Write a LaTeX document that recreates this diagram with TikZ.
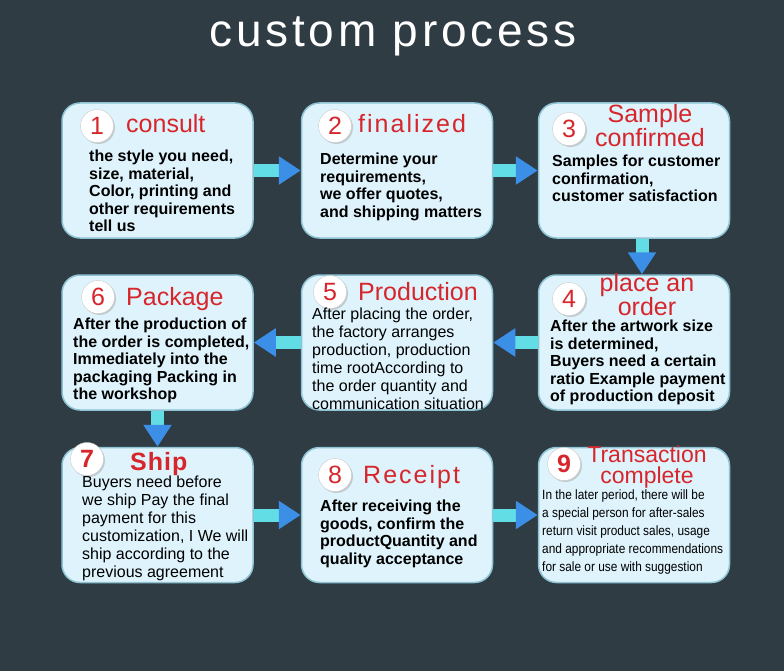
\documentclass[tikz,border=0pt]{standalone}
\usepackage{fontspec}
\setmainfont{Liberation Sans}
\newfontfamily\narrowfont{Liberation Sans}[FakeStretch=0.88]
\usetikzlibrary{arrows.meta,shadows}
\definecolor{bgslate}{HTML}{2F3C44}
\definecolor{cardfill}{HTML}{DEF3FB}
\definecolor{cardedge}{HTML}{8EC3D4}
\definecolor{numred}{HTML}{D7262B}
\definecolor{shaftcyan}{HTML}{62DDE6}
\definecolor{headblue}{HTML}{3C8FE6}
\tikzset{
  card/.style={rectangle, rounded corners=18pt, draw=cardedge, line width=1.5pt,
    fill=cardfill, minimum width=191pt, minimum height=135pt},
  badge/.style={circle, fill=white, draw=black!20, minimum size=33pt, inner sep=0pt,
    text=numred, font=\fontsize{25}{25}\selectfont,
    drop shadow={shadow xshift=1.5pt, shadow yshift=-1.5pt, fill=black!35}},
  heading/.style={inner sep=0pt, text=numred, font=\fontsize{25}{25}\selectfont},
  body/.style={anchor=north west, align=left, inner sep=0pt, text=black,
    font=\bfseries\fontsize{16}{17.5}\selectfont},
  flow/.style={line width=13pt, shaftcyan, -{Triangle[width=27pt,length=22pt,color=headblue]}}
}
\begin{document}
\begin{tikzpicture}[x=1pt,y=-1pt]
\fill[bgslate] (0,0) rectangle (784,671);
\useasboundingbox (0,0) rectangle (784,671);

\node[anchor=base, text=white, font=\fontsize{46}{46}\selectfont\addfontfeature{LetterSpace=8}] (title) at (393,47) {custom process};

% the nine cards, row by row
\node[card] (c1) at (157.5,170.5) {};
\node[card] (c2) at (397,170.5) {};
\node[card] (c3) at (634,170.5) {};
\node[card] (c6) at (157.5,342.5) {};
\node[card] (c5) at (397,342.5) {};
\node[card] (c4) at (634,342.5) {};
\node[card] (c7) at (157.5,515) {};
\node[card] (c8) at (397,515) {};
\node[card] (c9) at (634,515) {};

% flow between the cards
\draw[flow] (c1) -- (c2);
\draw[flow] (c2) -- (c3);
\draw[flow] ([xshift=8pt]c3.south) -- ([xshift=8pt]c4.north);
\draw[flow] (c4) -- (c5);
\draw[flow] (c5) -- (c6);
\draw[flow] (c6) -- (c7);
\draw[flow] (c7) -- (c8);
\draw[flow] (c8) -- (c9);

% 1 consult
\node[badge] (n1) at (97,126) {1};
\node[heading, anchor=base west] (h1) at (126,133) {consult};
\node[body] (t1) at (89,150) {the style you need,\\size, material,\\Color, printing and\\other requirements\\tell us};

% 2 finalized
\node[badge] (n2) at (335,126) {2};
\node[heading, anchor=base west, font=\fontsize{25}{25}\selectfont\addfontfeature{LetterSpace=8}] (h2) at (358,133) {finalized};
\node[body] (t2) at (320,153) {Determine your\\requirements,\\we offer quotes,\\and shipping matters};

% 3 sample
\node[badge] (n3) at (569,129) {3};
\node[heading, anchor=north, align=center, font=\fontsize{25}{23}\selectfont] (h3) at (650,104) {Sample\\confirmed};
\node[body] (t3) at (552,155) {Samples for customer\\confirmation,\\customer satisfaction};

% 4 order
\node[badge] (n4) at (569,299) {4};
\node[heading, anchor=north, align=center, font=\fontsize{25}{22}\selectfont] (h4) at (647,273) {place an\\order};
\node[body] (t4) at (550,320) {After the artwork size\\is determined,\\Buyers need a certain\\ratio Example payment\\of production deposit};

% 5 production
\node[badge] (n5) at (330,292) {5};
\node[heading, anchor=base west] (h5) at (358,300) {Production};
\node[body, font=\fontsize{16}{18}\selectfont] (t5) at (312,308) {After placing the order,\\the factory arranges\\production, production\\time rootAccording to\\the order quantity and\\communication situation};

% 6 package
\node[badge] (n6) at (98,297) {6};
\node[heading, anchor=base west] (h6) at (126,305) {Package};
\node[body] (t6) at (73,318) {After the production of\\the order is completed,\\Immediately into the\\packaging Packing in\\the workshop};

% 7 ship
\node[badge, font=\bfseries\fontsize{25}{25}\selectfont] (n7) at (87,459) {7};
\node[heading, anchor=base west, font=\bfseries\fontsize{25}{25}\selectfont\addfontfeature{LetterSpace=4}] (h7) at (130,470) {Ship};
\node[body, font=\fontsize{16}{18}\selectfont] (t7) at (82,476) {Buyers need before\\we ship Pay the final\\payment for this\\customization, I We will\\ship according to the\\previous agreement};

% 8 receipt
\node[badge] (n8) at (335,475) {8};
\node[heading, anchor=base west, font=\fontsize{25}{25}\selectfont\addfontfeature{LetterSpace=8}] (h8) at (363,483) {Receipt};
\node[body] (t8) at (320,500) {After receiving the\\goods, confirm the\\productQuantity and\\quality acceptance};

% 9 transaction
\node[badge, font=\bfseries\fontsize{25}{25}\selectfont] (n9) at (564,464) {9};
\node[heading, anchor=north, align=center, font=\fontsize{23}{21}\selectfont] (h9) at (647,446) {Transaction\\complete};
\node[body, font=\narrowfont\fontsize{13.5}{17.8}\selectfont] (t9) at (542,490) {In the later period, there will be\\a special person for after-sales\\return visit product sales, usage\\and appropriate recommendations\\for sale or use with suggestion};

\end{tikzpicture}
\end{document}
